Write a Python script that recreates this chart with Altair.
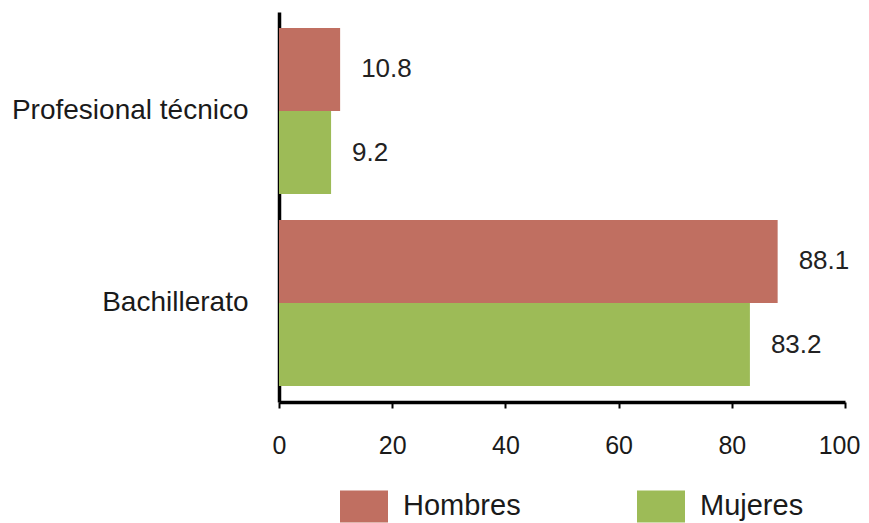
import altair as alt
import pandas as pd

niveles = ["Profesional técnico", "Profesional técnico", "Bachillerato", "Bachillerato"]
sexo = ["Hombres", "Mujeres", "Hombres", "Mujeres"]
valores = [10.8, 9.2, 88.1, 83.2]
orden_niveles = ["Profesional técnico", "Bachillerato"]
orden_sexo = ["Hombres", "Mujeres"]
colores = ["#C06F61", "#9DBB57"]
ticks_x = [0, 20, 40, 60, 80, 100]

df = pd.DataFrame({"nivel": niveles, "sexo": sexo, "valor": valores})

FONT = "Liberation Sans"

base = alt.Chart(df).encode(
    y=alt.Y(
        "nivel:N",
        sort=orden_niveles,
        scale=alt.Scale(paddingInner=0.135, paddingOuter=0.083),
        axis=alt.Axis(
            title=None, ticks=False, tickSize=0, domainColor="black", domainWidth=3.5,
            labelFontSize=28, labelPadding=31, labelColor="#1a1a1a", labelFont=FONT,
            labelLimit=400,
        ),
    ),
    yOffset=alt.YOffset("sexo:N", sort=orden_sexo, scale=alt.Scale(paddingInner=0, paddingOuter=0)),
)

bars = base.mark_bar().encode(
    x=alt.X(
        "valor:Q",
        scale=alt.Scale(domain=[0, 100], nice=False),
        axis=alt.Axis(
            values=ticks_x, title=None, grid=False, tickSize=6, tickWidth=2,
            tickColor="black", domainColor="black", domainWidth=3.5,
            labelFontSize=25, labelPadding=25, labelColor="#1a1a1a", labelFont=FONT,
            labelFlush=False,
            labelOffset={"condition": {"test": "datum.value === 100", "value": -6}, "value": 0},
        ),
    ),
    color=alt.Color(
        "sexo:N",
        sort=orden_sexo,
        scale=alt.Scale(domain=orden_sexo, range=colores),
        legend=alt.Legend(
            title=None, orient="none", direction="horizontal", legendX=61, legendY=470,
            symbolType="M-1,-0.6667H1V0.6667H-1Z", symbolSize=2304, symbolStrokeWidth=0,
            symbolOpacity=1, labelFontSize=29, labelFont=FONT, labelColor="#1a1a1a",
            labelOffset=15, columnPadding=116, padding=0,
        ),
    ),
)

text = base.mark_text(align="left", baseline="middle", dx=21, fontSize=26, font=FONT, color="#222222").encode(
    x=alt.X("valor:Q"),
    text=alt.Text("valor:Q", format=".1f"),
)

chart = (
    alt.layer(bars, text)
    .properties(
        width=566,
        height=390,
        autosize=alt.AutoSizeParams(type="none"),
        padding={"left": 271, "top": 4, "right": 16, "bottom": 121},
        background="white",
    )
    .configure_view(stroke=None)
)

chart.save("out.html", embed_options={"renderer": "svg", "actions": False})
